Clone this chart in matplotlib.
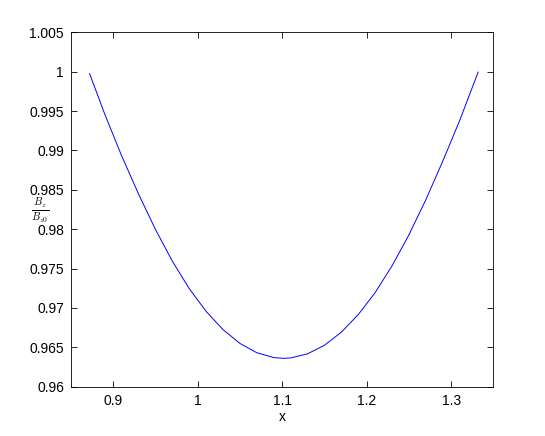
import matplotlib
matplotlib.use("Agg")
import matplotlib.pyplot as plt

# valores (estimados ponto a ponto)
x_vals = [0.872, 0.89, 0.91, 0.93, 0.95, 0.97, 0.99, 1.01, 1.03, 1.05,
          1.07, 1.09, 1.1016, 1.11, 1.13, 1.15, 1.17, 1.19, 1.21, 1.23,
          1.25, 1.27, 1.29, 1.31, 1.332]
bz_vals = [0.99975, 0.99459, 0.98930, 0.98445, 0.97996, 0.97593, 0.97244, 0.96956, 0.96724, 0.96549,
           0.96431, 0.96370, 0.96360, 0.96365, 0.96417, 0.96526, 0.96692, 0.96915, 0.97194, 0.97534,
           0.97928, 0.98373, 0.98862, 0.99378, 0.99995]

x_ticks = [0.9, 1.0, 1.1, 1.2, 1.3]
x_ticklabels = ['0.9', '1', '1.1', '1.2', '1.3']
y_ticks = [0.96, 0.965, 0.97, 0.975, 0.98, 0.985, 0.99, 0.995, 1.0, 1.005]
y_ticklabels = ['0.96', '0.965', '0.97', '0.975', '0.98', '0.985', '0.99', '0.995', '1', '1.005']

plt.rcParams['font.family'] = ['Liberation Sans', 'DejaVu Sans']
plt.rcParams['mathtext.fontset'] = 'cm'

fig = plt.figure(figsize=(5.45, 4.36), dpi=100)
ax = fig.add_axes([0.1303, 0.1131, 0.775, 0.8128])

ax.plot(x_vals, bz_vals, color='#0000ff', linewidth=0.7)

ax.set_xlim(0.85, 1.35)
ax.set_ylim(0.96, 1.005)
ax.set_xticks(x_ticks)
ax.set_xticklabels(x_ticklabels)
ax.set_yticks(y_ticks)
ax.set_yticklabels(y_ticklabels)
ax.tick_params(direction='in', top=True, right=True, length=4, width=0.6, labelsize=10, pad=5)
for s in ax.spines.values():
    s.set_linewidth(0.6)

ax.set_xlabel('x', fontsize=10, labelpad=2)
ax.set_ylabel(r'$\frac{B_z}{B_{z0}}$', fontsize=11, rotation=0, ha='center', va='center')
ax.yaxis.set_label_coords(-0.073, 0.496)

fig.savefig('out.png', dpi=100)
